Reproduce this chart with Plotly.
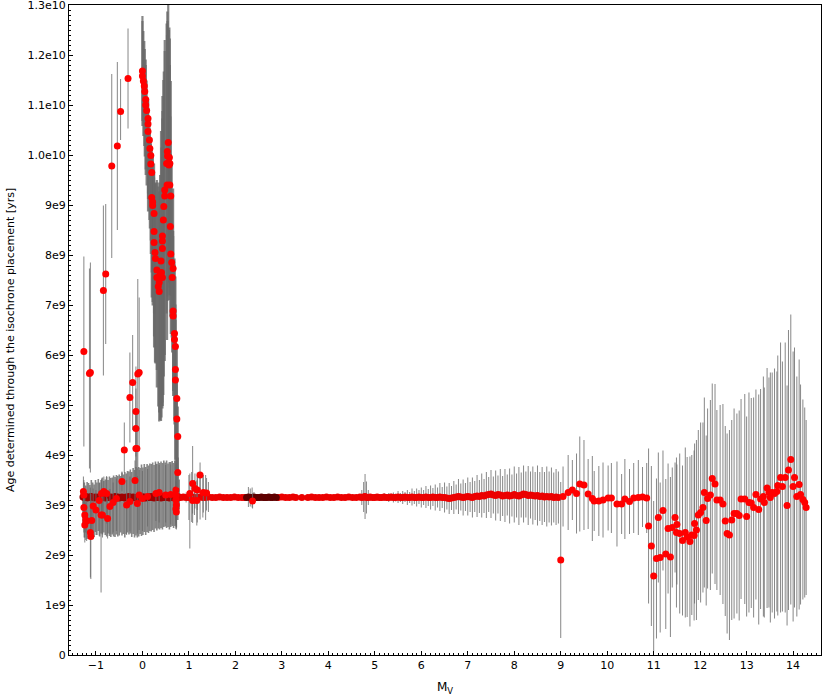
import numpy as np
import plotly.graph_objects as go

GYR = 1e9

# ---------------- dense main band, left part (M_V -1.3 .. 0.8) ----------------
band_left_mv = [-1.28, -1.25, -1.22, -1.19, -1.16, -1.13, -1.10, -1.07, -1.04, -1.01,
                -0.98, -0.95, -0.92, -0.89, -0.86, -0.83, -0.80, -0.77, -0.74, -0.71,
                -0.68, -0.65, -0.62, -0.59, -0.56, -0.53, -0.50, -0.47, -0.44, -0.41,
                -0.38, -0.35, -0.32, -0.29, -0.26, -0.23, -0.20, -0.17, -0.14, -0.11,
                -0.08, -0.05, -0.02, 0.01, 0.04, 0.07, 0.10, 0.13, 0.16, 0.19,
                0.22, 0.25, 0.28, 0.31, 0.34, 0.37, 0.40, 0.43, 0.46, 0.49,
                0.52, 0.55, 0.58, 0.61, 0.64, 0.67, 0.70, 0.73, 0.76, 0.79]
band_left_age = [3.16, 3.15, 3.17, 3.14, 3.16, 3.15, 3.17, 3.15, 3.14, 3.16,
                 3.15, 3.16, 3.14, 3.15, 3.17, 3.15, 3.14, 3.16, 3.15, 3.15,
                 3.16, 3.14, 3.15, 3.17, 3.15, 3.16, 3.14, 3.15, 3.16, 3.15,
                 3.14, 3.16, 3.15, 3.17, 3.15, 3.14, 3.16, 3.15, 3.15, 3.16,
                 3.14, 3.15, 3.17, 3.15, 3.16, 3.14, 3.15, 3.16, 3.15, 3.17,
                 3.15, 3.14, 3.16, 3.15, 3.15, 3.16, 3.14, 3.15, 3.17, 3.15,
                 3.16, 3.15, 3.14, 3.16, 3.15, 3.15, 3.16, 3.15, 3.15, 3.16]
band_left_up = [0.15, 0.30, 0.22, 0.32, 0.28, 0.25, 0.33, 0.30, 0.27, 0.34,
                0.30, 0.36, 0.31, 0.35, 0.38, 0.33, 0.37, 0.40, 0.35, 0.42,
                0.38, 0.41, 0.44, 0.39, 0.45, 0.42, 0.47, 0.43, 0.49, 0.46,
                0.52, 0.47, 0.53, 0.50, 0.56, 0.52, 0.58, 0.55, 0.61, 0.57,
                0.62, 0.59, 0.64, 0.60, 0.66, 0.62, 0.67, 0.63, 0.68, 0.65,
                0.70, 0.66, 0.71, 0.67, 0.72, 0.68, 0.73, 0.69, 0.72, 0.70,
                0.73, 0.68, 0.72, 0.70, 0.73, 0.69, 0.72, 0.70, 0.60, 0.35]
band_left_down = [0.60, 0.80, 0.72, 0.82, 0.76, 0.70, 0.80, 0.74, 0.78, 0.70,
                  0.75, 0.68, 0.77, 0.72, 0.76, 0.70, 0.74, 0.79, 0.72, 0.77,
                  0.80, 0.73, 0.78, 0.81, 0.74, 0.79, 0.75, 0.70, 0.77, 0.73,
                  0.79, 0.74, 0.70, 0.76, 0.72, 0.78, 0.74, 0.80, 0.76, 0.81,
                  0.77, 0.73, 0.79, 0.75, 0.70, 0.74, 0.69, 0.72, 0.67, 0.70,
                  0.65, 0.68, 0.63, 0.66, 0.62, 0.65, 0.60, 0.64, 0.61, 0.58,
                  0.62, 0.59, 0.63, 0.60, 0.57, 0.61, 0.58, 0.60, 0.45, 0.25]

# ---------------- main band, rest (bright red) ----------------
band_mv = [0.82, 0.88, 0.94, 1.00, 1.06, 1.12, 1.18, 1.24, 1.30, 1.36, 1.42,
           1.50, 1.58, 1.66, 1.74, 1.82, 1.90, 1.98, 2.06, 2.14, 2.20,
           2.92, 3.00, 3.08, 3.16, 3.24, 3.30, 3.43,
           3.56, 3.64, 3.72, 3.80, 3.88, 3.96, 4.04, 4.12, 4.20, 4.28, 4.36, 4.44,
           4.52, 4.60, 4.68, 4.72, 4.76, 4.79, 4.82, 4.86, 4.90,
           4.95, 5.00, 5.05, 5.10, 5.15, 5.20, 5.25, 5.30, 5.35, 5.40,
           5.45, 5.50, 5.55, 5.60, 5.65, 5.70, 5.75, 5.80, 5.85, 5.90,
           5.95, 6.00, 6.05, 6.10, 6.15, 6.20, 6.25, 6.30, 6.35, 6.40,
           6.45, 6.50, 6.55, 6.60, 6.65, 6.70, 6.75, 6.80, 6.85, 6.90,
           6.95, 7.00, 7.05, 7.10, 7.15, 7.20, 7.25, 7.30, 7.35, 7.40,
           7.45, 7.50, 7.55, 7.60, 7.65, 7.70, 7.75, 7.80, 7.85, 7.90,
           7.95, 8.00, 8.05, 8.10, 8.15, 8.20, 8.25, 8.30, 8.35, 8.40,
           8.45, 8.50, 8.55, 8.60, 8.65, 8.70, 8.75, 8.80, 8.85, 8.90, 8.95]
band_age = [3.15, 3.16, 3.15, 3.15, 3.16, 3.15, 3.15, 3.16, 3.15, 3.15, 3.16,
            3.15, 3.15, 3.16, 3.15, 3.15, 3.15, 3.16, 3.15, 3.15, 3.15,
            3.15, 3.16, 3.15, 3.15, 3.16, 3.15, 3.15,
            3.15, 3.16, 3.15, 3.15, 3.15, 3.16, 3.15, 3.15, 3.16, 3.15, 3.15, 3.16,
            3.15, 3.15, 3.16, 3.15, 3.16, 3.17, 3.15, 3.15, 3.16,
            3.15, 3.15, 3.16, 3.15, 3.15, 3.16, 3.15, 3.15, 3.16, 3.15,
            3.15, 3.16, 3.15, 3.15, 3.16, 3.15, 3.15, 3.16, 3.15, 3.15,
            3.16, 3.15, 3.15, 3.16, 3.15, 3.15, 3.16, 3.15, 3.15, 3.16,
            3.15, 3.15, 3.14, 3.13, 3.14, 3.15, 3.16, 3.17, 3.16, 3.15,
            3.16, 3.17, 3.16, 3.15, 3.17, 3.18, 3.17, 3.19, 3.18, 3.20,
            3.21, 3.22, 3.20, 3.19, 3.21, 3.20, 3.18, 3.19, 3.20, 3.18,
            3.19, 3.21, 3.19, 3.18, 3.20, 3.22, 3.21, 3.19, 3.20, 3.19,
            3.18, 3.19, 3.17, 3.18, 3.16, 3.17, 3.16, 3.17, 3.15, 3.16, 3.15]
band_err = [0.05, 0.05, 0.10, 0.45, 0.50, 0.35, 0.50, 0.45, 0.40, 0.45, 0.30,
            0.02, 0.02, 0.02, 0.02, 0.02, 0.02, 0.02, 0.02, 0.02, 0.03,
            0.02, 0.02, 0.02, 0.02, 0.02, 0.02, 0.02,
            0.02, 0.02, 0.02, 0.02, 0.02, 0.02, 0.02, 0.02, 0.02, 0.02, 0.02, 0.02,
            0.02, 0.02, 0.05, 0.15, 0.30, 0.45, 0.32, 0.15, 0.05,
            0.03, 0.05, 0.04, 0.07, 0.05, 0.08, 0.06, 0.09, 0.07, 0.10,
            0.08, 0.12, 0.09, 0.13, 0.10, 0.15, 0.11, 0.17, 0.13, 0.18,
            0.14, 0.20, 0.15, 0.22, 0.17, 0.24, 0.18, 0.26, 0.20, 0.28,
            0.21, 0.30, 0.23, 0.31, 0.24, 0.33, 0.25, 0.35, 0.27, 0.36,
            0.28, 0.38, 0.30, 0.40, 0.31, 0.42, 0.33, 0.44, 0.34, 0.46,
            0.35, 0.48, 0.37, 0.50, 0.38, 0.52, 0.40, 0.53, 0.41, 0.55,
            0.42, 0.56, 0.44, 0.58, 0.45, 0.57, 0.46, 0.59, 0.47, 0.58,
            0.48, 0.60, 0.49, 0.58, 0.50, 0.60, 0.51, 0.58, 0.50, 0.56, 0.52]

# ---------------- crowded (dark) part of the band, M_V 2.24 .. 2.88 ----------------
band_dark_mv = [2.24, 2.28, 2.32, 2.36, 2.40, 2.44, 2.48, 2.52, 2.56, 2.60,
                2.64, 2.68, 2.72, 2.76, 2.80, 2.84, 2.88]
band_dark_age = [3.15, 3.16, 3.15, 3.15, 3.16, 3.15, 3.15, 3.15, 3.16, 3.15,
                 3.15, 3.15, 3.16, 3.15, 3.15, 3.16, 3.15]
band_dark_err = [0.05, 0.20, 0.18, 0.20, 0.10, 0.04, 0.04, 0.03, 0.04, 0.03,
                 0.04, 0.03, 0.04, 0.05, 0.04, 0.03, 0.03]

# ---------------- scattered stars near the band (M_V < 1.5) ----------------
near_mv = [-1.27, -1.26, -1.26, -1.24, -1.24, -1.22, -1.20, -1.12, -1.11, -1.09,
           -1.06, -1.00, -0.93, -0.89, -0.88, -0.86, -0.83, -0.77, -0.75, -0.70,
           -0.63, -0.56, -0.34, -0.27, -0.11, -0.07, 0.00, 0.11, 0.29, 0.36,
           0.50, 0.61, 0.72, 0.72, 0.72, 0.73, 0.72, 0.73,
           1.02, 1.08, 1.08, 1.13, 1.17, 1.18, 1.24, 1.31, 1.38, 2.37]
near_age = [3.27, 3.20, 2.95, 2.80, 2.60, 2.70, 2.68, 2.45, 2.37, 2.69,
            2.98, 2.90, 3.09, 2.80, 3.23, 2.80, 3.27, 3.23, 2.73, 2.97,
            3.05, 3.13, 3.00, 3.07, 3.03, 3.20, 3.13, 3.17, 3.23, 3.25,
            3.20, 3.21, 3.30, 3.20, 3.10, 3.00, 2.92, 2.86,
            3.23, 3.43, 3.09, 3.33, 3.09, 3.30, 3.60, 3.25, 3.24, 3.08]
near_up = [0.30, 0.30, 0.35, 0.40, 0.45, 0.35, 0.40, 0.90, 0.85, 0.40,
           0.35, 0.40, 0.35, 0.35, 0.30, 0.40, 0.30, 0.35, 0.40, 0.35,
           0.40, 0.40, 0.50, 0.50, 0.55, 0.50, 0.55, 0.55, 0.60, 0.55,
           0.60, 0.60, 0.50, 0.55, 0.60, 0.60, 0.55, 0.60,
           0.40, 0.75, 0.40, 0.30, 0.40, 0.30, 0.25, 0.35, 0.30, 0.15]
near_down = [0.40, 0.45, 0.50, 0.45, 0.35, 0.40, 0.40, 0.90, 0.85, 0.35,
             0.60, 0.50, 0.70, 1.55, 0.50, 0.45, 0.55, 0.60, 0.40, 0.55,
             0.60, 0.65, 0.60, 0.60, 0.60, 0.70, 0.65, 0.60, 0.55, 0.60,
             0.55, 0.60, 0.60, 0.55, 0.50, 0.45, 0.40, 0.35,
             1.10, 0.60, 0.45, 0.40, 0.50, 0.40, 0.35, 0.40, 0.35, 0.15]

# ---------------- bright stars off the band, left of the turn-off ----------------
bright_mv = [-0.31, -0.47, -0.54, -0.66, -0.79, -0.84, -1.26, -1.12, -1.14,
             -0.39, -0.44, -0.27, -0.21, -0.14, -0.14, -0.14, -0.12, -0.16,
             -0.10, -0.07]
bright_age = [11.53, 10.87, 10.18, 9.78, 7.62, 7.29, 6.07, 5.65, 5.63,
              4.10, 3.47, 5.15, 5.45, 4.87, 4.53, 4.13, 4.13, 3.49,
              5.62, 5.65]
bright_up = [1.00, 0.65, 1.68, 1.84, 1.40, 1.70, 1.90, 2.20, 2.10,
             0.55, 0.20, 0.90, 0.95, 0.90, 0.80, 0.70, 0.70, 0.40,
             1.90, 1.50]
bright_down = [1.00, 0.57, 1.68, 1.84, 1.40, 1.70, 1.90, 2.00, 1.90,
               0.45, 0.20, 0.90, 0.95, 0.90, 0.80, 0.70, 0.70, 0.40,
               1.90, 1.50]

# ---------------- turn-off wedge ----------------
wedge_mv = [0.00, 0.00, 0.02, 0.04, 0.05, 0.07, 0.07, 0.09, 0.12, 0.12,
            0.12, 0.15, 0.16, 0.18, 0.18, 0.20, 0.20, 0.22, 0.22, 0.25,
            0.25, 0.25, 0.27, 0.28, 0.31, 0.31, 0.34, 0.36, 0.36, 0.38,
            0.555, 0.535, 0.54, 0.58, 0.52, 0.59, 0.57, 0.59, 0.53, 0.48,
            0.61, 0.48, 0.46, 0.45, 0.60, 0.43, 0.43, 0.43, 0.61, 0.40,
            0.63, 0.66, 0.41, 0.64, 0.43, 0.66, 0.66, 0.69, 0.69, 0.71,
            0.71, 0.71, 0.74, 0.74, 0.76, 0.76]
wedge_age = [11.68, 11.58, 11.48, 11.38, 11.27, 11.11, 11.00, 10.89, 10.73, 10.62,
             10.47, 10.30, 10.13, 9.99, 9.82, 9.65, 9.15, 9.06, 8.99, 8.83,
             8.47, 8.25, 8.05, 7.93, 7.70, 7.55, 7.37, 7.45, 7.27, 7.60,
             10.25, 10.07, 9.98, 9.95, 9.83, 9.83, 9.80, 9.40, 9.40, 9.30,
             9.18, 9.18, 8.97, 8.70, 8.57, 8.38, 8.28, 8.13, 8.02, 7.88,
             7.85, 7.73, 7.65, 7.55, 7.55, 6.88, 6.78, 6.43, 6.31, 6.17,
             5.71, 5.50, 5.13, 4.72, 4.37, 3.65]
wedge_up = [1.10, 1.10, 1.00, 0.90, 0.85, 0.80, 0.80, 0.60, 0.40, 0.50,
            0.60, 0.40, 0.40, 0.30, 0.40, 0.50, 0.90, 0.90, 1.00, 1.00,
            1.20, 1.30, 1.40, 1.50, 1.80, 1.90, 2.00, 2.00, 2.00, 2.00,
            2.75, 2.80, 2.70, 2.60, 2.80, 2.50, 2.70, 2.40, 3.00, 3.00,
            2.30, 2.90, 2.70, 2.80, 2.20, 2.80, 2.60, 2.60, 2.00, 2.60,
            2.00, 1.60, 2.50, 1.60, 2.40, 1.60, 1.60, 1.50, 1.50, 1.40,
            1.30, 1.20, 1.00, 0.80, 0.60, 0.30]
wedge_down = [1.00, 1.00, 1.10, 1.20, 1.30, 1.40, 1.40, 1.50, 1.50, 1.50,
              1.60, 1.60, 1.60, 1.70, 1.80, 2.00, 2.00, 2.00, 2.00, 2.00,
              2.10, 2.10, 2.20, 2.10, 2.00, 2.20, 2.40, 2.60, 2.60, 2.90,
              2.80, 2.90, 2.90, 2.60, 3.00, 2.40, 2.70, 2.20, 3.10, 3.30,
              2.00, 3.30, 3.40, 3.50, 1.80, 3.40, 3.30, 3.20, 1.60, 3.20,
              1.50, 1.50, 2.90, 1.50, 2.50, 1.60, 1.60, 1.70, 1.70, 1.80,
              1.80, 1.80, 1.40, 1.00, 0.70, 0.30]

# ---------------- faint stars, M_V > 9 ----------------
faint_mv = [9.00, 9.05, 9.16, 9.25, 9.34, 9.41, 9.50, 9.59, 9.68, 9.72,
            9.82, 9.91, 10.02, 10.09, 10.21, 10.31, 10.38, 10.48, 10.57, 10.67,
            10.76, 10.85, 10.89, 10.95, 11.00, 11.06, 11.10, 11.14, 11.20, 11.26,
            11.31, 11.36, 11.40, 11.46, 11.49, 11.50, 11.56, 11.62, 11.68, 11.72,
            11.78, 11.82, 11.87, 11.88, 11.92, 11.96, 12.01, 12.06, 12.09, 12.13,
            12.16, 12.22, 12.26, 12.32, 12.36, 12.43, 12.49, 12.54, 12.58, 12.63,
            12.68, 12.73, 12.79, 12.84, 12.88, 12.96, 13.00, 13.05, 13.10, 13.15,
            13.20, 13.26, 13.30, 13.36, 13.38, 13.44, 13.48, 13.51, 13.55, 13.60,
            13.65, 13.67, 13.73, 13.77, 13.83, 13.87, 13.90, 13.95, 14.00, 14.03,
            14.08, 14.13, 14.16, 14.21, 14.25, 14.28]
faint_age = [1.90, 3.17, 3.25, 3.30, 3.23, 3.42, 3.40, 3.22, 3.13, 3.08,
             3.08, 3.10, 3.14, 3.14, 3.02, 3.02, 3.12, 3.07, 3.14, 3.15,
             3.16, 3.14, 2.58, 2.18, 1.58, 1.93, 2.75, 1.95, 2.89, 2.02,
             2.53, 1.96, 2.55, 2.75, 2.45, 2.61, 2.43, 2.29, 2.45, 2.36,
             2.27, 2.40, 2.39, 2.63, 2.50, 2.80, 2.85, 2.95, 3.25, 2.69,
             3.13, 3.20, 3.53, 3.42, 3.10, 3.10, 3.02, 2.68, 2.43, 2.40,
             2.70, 2.83, 2.83, 2.79, 3.12, 3.12, 2.77, 3.05, 3.04, 2.95,
             3.21, 2.91, 3.12, 3.17, 3.05, 3.34, 3.25, 3.15, 3.25, 3.23,
             3.27, 3.39, 3.55, 3.37, 3.55, 2.99, 3.70, 3.91, 3.37, 3.55,
             3.17, 3.41, 3.21, 3.11, 3.05, 2.95]
faint_err = [1.56, 0.60, 0.75, 0.60, 0.80, 0.95, 0.90, 0.70, 0.85, 0.60,
             0.70, 0.75, 0.65, 0.70, 0.85, 0.60, 0.80, 0.65, 0.70, 0.75,
             0.60, 0.70, 1.55, 1.60, 1.50, 1.60, 1.30, 1.50, 1.20, 1.50,
             1.30, 1.60, 1.20, 1.10, 1.50, 1.20, 1.60, 1.50, 1.70, 1.60,
             1.70, 1.60, 1.70, 1.60, 1.80, 1.70, 1.80, 1.70, 1.90, 1.70,
             1.80, 1.90, 1.90, 2.00, 1.80, 1.90, 2.00, 1.90, 2.00, 2.10,
             2.00, 2.10, 2.00, 2.10, 2.00, 2.10, 2.00, 2.20, 2.10, 2.20,
             2.10, 2.30, 2.20, 2.40, 2.30, 2.40, 2.30, 2.50, 2.40, 2.50,
             2.40, 2.60, 2.70, 2.50, 2.70, 2.40, 2.80, 2.90, 2.70, 2.60,
             2.40, 2.50, 2.20, 2.00, 1.90, 1.75]

x_tick_vals = list(range(-1, 15))
x_tick_text = ["\u22121"] + [str(v) for v in range(0, 15)]
y_tick_vals = [0, 1e9, 2e9, 3e9, 4e9, 5e9, 6e9, 7e9, 8e9, 9e9, 1.0e10, 1.1e10, 1.2e10, 1.3e10]
y_tick_text = ["0", "1e9", "2e9", "3e9", "4e9", "5e9", "6e9", "7e9", "8e9", "9e9",
               "1.0e10", "1.1e10", "1.2e10", "1.3e10"]

ERR_COLOR = "rgba(105,105,105,0.8)"
FONT = "DejaVu Sans"


def gy(a):
    return np.array(a) * GYR


def trace(mv, age, up, down, color, thick=1.0, size=7):
    return go.Scatter(
        x=mv, y=gy(age), mode="markers",
        marker=dict(color=color, size=size, line=dict(width=0)),
        error_y=dict(type="data", symmetric=False, array=gy(up), arrayminus=gy(down),
                     color=ERR_COLOR, thickness=thick, width=0),
        showlegend=False, hoverinfo="skip")


fig = go.Figure()
fig.add_trace(trace(band_left_mv, band_left_age, band_left_up, band_left_down, "rgb(160,0,0)", thick=1.6))
fig.add_trace(trace(band_mv, band_age, band_err, band_err, "rgb(235,0,0)"))
fig.add_trace(trace(band_dark_mv, band_dark_age, band_dark_err, band_dark_err, "rgb(95,0,0)"))
fig.add_trace(trace(near_mv, near_age, near_up, near_down, "rgb(255,0,0)"))
fig.add_trace(trace(bright_mv, bright_age, bright_up, bright_down, "rgb(255,0,0)"))
fig.add_trace(trace(wedge_mv, wedge_age, wedge_up, wedge_down, "rgb(255,0,0)", thick=2.2))
fig.add_trace(trace(faint_mv, faint_age, faint_err, faint_err, "rgb(255,0,0)"))

axis_common = dict(showline=True, linecolor="black", linewidth=1, mirror=True,
                   ticks="inside", ticklen=4, tickcolor="black", tickwidth=1,
                   showgrid=False, zeroline=False, automargin=False,
                   ticklabeloverflow="allow",
                   tickfont=dict(family=FONT, size=11, color="black"))

fig.update_layout(
    width=830, height=696,
    margin=dict(l=69, r=9, t=5, b=41),
    paper_bgcolor="white", plot_bgcolor="white",
    font=dict(family=FONT, size=11, color="black"),
    xaxis=dict(range=[-1.58, 14.6], tickmode="array", tickvals=x_tick_vals, ticktext=x_tick_text,
               minor=dict(ticks="inside", dtick=0.1, tick0=0, ticklen=2, tickcolor="black"),
               **axis_common),
    yaxis=dict(range=[0, 1.30001e10], tickmode="array", tickvals=y_tick_vals, ticktext=y_tick_text,
               minor=dict(ticks="inside", dtick=1e8, tick0=0, ticklen=2, tickcolor="black"),
               **axis_common),
    annotations=[
        dict(text="M<sub>V</sub>", xref="paper", yref="paper", x=0.5, y=0,
             xanchor="center", yanchor="top", yshift=-23, showarrow=False,
             font=dict(family=FONT, size=12, color="black")),
        dict(text="Age determined through the isochrone placement [yrs]",
             xref="paper", yref="paper", x=0, y=0.5, xanchor="center", yanchor="middle",
             xshift=-59, yshift=-10, textangle=-90, showarrow=False,
             font=dict(family=FONT, size=11, color="black")),
    ],
)

fig.write_html("out.html", config={"displayModeBar": False},
               post_script="document.body.style.margin='0';document.body.style.overflow='hidden';")
